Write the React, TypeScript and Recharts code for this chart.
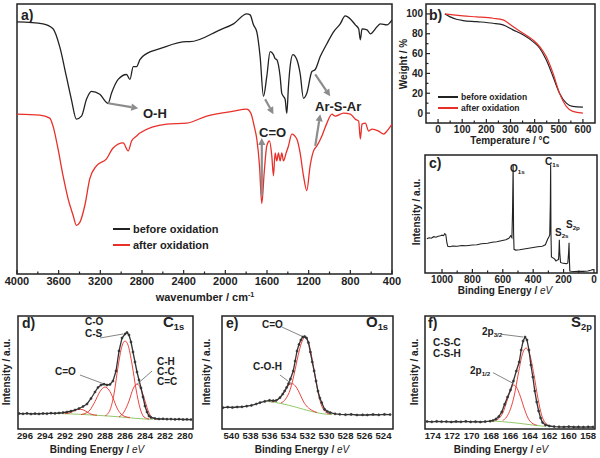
import React from 'react';
import { LineChart, Line, XAxis, YAxis, ReferenceLine, ReferenceArea } from 'recharts';

const FONT = '"Liberation Sans", Arial, Helvetica, sans-serif';
const INK = '#222';
const RED = '#e8302a';
const GREEN = '#86c35a';
const GREY = '#8c8c8c';

// a) FTIR, [wavenumber, transmittance a.u.]
const ftirBefore: [number, number][] = [
  [4000, 254], [3750, 252], [3654, 247], [3590, 229], [3526, 199], [3478, 176], [3430, 156], [3381, 159],
  [3333, 176], [3285, 184], [3205, 181], [3125, 172], [3093, 182], [3029, 196], [2948, 201], [2916, 196],
  [2884, 209], [2852, 209], [2820, 216], [2756, 222], [2628, 227], [2371, 234], [2340, 234], [2050, 246],
  [1922, 252], [1794, 262], [1762, 261], [1730, 251], [1698, 244], [1666, 219], [1634, 179], [1602, 199],
  [1570, 224], [1538, 221], [1522, 217], [1506, 216], [1474, 199], [1458, 182], [1442, 179], [1426, 176],
  [1410, 162], [1394, 189], [1378, 209], [1352, 221], [1314, 216], [1282, 202], [1250, 177], [1218, 182],
  [1169, 204], [1137, 206], [1089, 219], [1025, 232], [961, 244], [897, 252], [849, 260], [800, 257],
  [752, 251], [720, 247], [704, 236], [688, 247], [640, 246], [608, 242], [544, 249], [512, 252],
  [448, 251], [400, 256],
];
const ftirAfter: [number, number][] = [
  [4000, 161], [3782, 160], [3686, 157], [3654, 149], [3606, 126], [3558, 99], [3510, 76], [3461, 59],
  [3430, 49], [3397, 52], [3349, 69], [3301, 96], [3237, 109], [3141, 116], [3077, 127], [2981, 132],
  [2932, 124], [2900, 134], [2852, 139], [2820, 142], [2564, 151], [2371, 152], [2179, 159], [1922, 164],
  [1794, 166], [1755, 162], [1723, 149], [1698, 136], [1672, 109], [1650, 71], [1627, 102], [1602, 129],
  [1576, 134], [1554, 119], [1538, 99], [1522, 122], [1506, 114], [1490, 122], [1474, 114], [1458, 122],
  [1442, 114], [1416, 122], [1394, 129], [1362, 141], [1314, 136], [1282, 122], [1250, 99], [1218, 84],
  [1186, 109], [1153, 124], [1121, 129], [1073, 139], [1025, 152], [977, 161], [945, 159], [865, 162],
  [800, 161], [752, 156], [720, 154], [704, 136], [688, 151], [656, 152], [624, 144], [592, 146],
  [528, 144], [480, 141], [448, 144], [400, 151],
];
const ftirTicks = [4000, 3800, 3600, 3400, 3200, 3000, 2800, 2600, 2400, 2200, 2000, 1800, 1600, 1400, 1200, 1000, 800, 600, 400];

// b) TGA, [temperature, weight %]
const tgaBefore: [number, number][] = [
  [28, 100], [48, 97.3], [76, 94.6], [103, 93.3], [160, 92.2], [228, 90.6], [269, 88.9], [310, 83.9],
  [352, 78.9], [393, 72.1], [421, 65.4], [448, 53.7], [476, 36.9], [503, 20.1], [531, 10], [558, 6.7], [600, 6],
];
const tgaAfter: [number, number][] = [
  [28, 100], [62, 99], [103, 98], [160, 97], [228, 95.6], [269, 94], [310, 87.2], [352, 80.5],
  [393, 73.8], [421, 67.1], [448, 57], [476, 40.3], [503, 20.1], [531, 6.7], [558, 1.7], [600, 0],
];
const tgaXTicks = [0, 50, 100, 150, 200, 250, 300, 350, 400, 450, 500, 550, 600];
const tgaYTicks = [0, 10, 20, 30, 40, 50, 60, 70, 80, 90, 100];

// c) XPS survey, [binding energy, intensity a.u.]
const survey: [number, number][] = [
  [1100, 34], [1085, 35], [1070, 34.5], [1055, 36], [1040, 35.5], [1025, 36.5], [1010, 37], [1000, 37.5],
  [990, 37], [982, 39], [975, 38], [968, 30], [962, 26.5], [950, 26], [930, 26.8], [900, 26.5], [870, 27.3],
  [840, 27], [800, 27.8], [770, 28], [740, 29], [700, 29.5], [670, 30.5], [640, 31], [610, 32], [580, 33],
  [560, 34.5], [548, 37], [540, 35], [536, 60], [532, 107], [529, 40], [526, 23.5], [515, 22.7], [490, 23],
  [460, 23.8], [430, 24.5], [400, 25.3], [370, 26], [340, 26.5], [320, 28], [305, 33.5], [296, 36], [291, 38],
  [287, 70], [285, 107], [283, 40], [280, 16], [270, 15], [260, 14], [250, 12], [240, 13], [233, 13.5],
  [230, 22], [228, 33], [225, 20], [220, 10.5], [210, 10], [195, 9.5], [180, 9.2], [172, 10], [167, 20],
  [164, 30], [162, 15], [159, 2], [150, 1.8], [130, 1.5], [100, 1.7], [70, 1.6], [40, 2], [20, 2.8], [10, 3.5], [0, 3],
];
const surveyTicks = [0, 100, 200, 300, 400, 500, 600, 700, 800, 900, 1000];

// d) C1s
const c1sData: [number, number][] = [
  [296.6, 15.5], [296.2, 15.2], [295.8, 15.6], [295.4, 15.0], [295.0, 15.4], [294.6, 15.1], [294.2, 15.5],
  [293.8, 15.3], [293.4, 15.8], [293.0, 15.6], [292.6, 16.0], [292.2, 16.4], [291.8, 17.0], [291.4, 17.8],
  [291.0, 19.0], [290.6, 20.5], [290.2, 22.5], [289.8, 25.0], [289.4, 30.5], [289.0, 37.0], [288.7, 41.5],
  [288.4, 44.0], [288.1, 44.8], [287.8, 44.0], [287.5, 44.5], [287.2, 48.0], [286.9, 58.0], [286.6, 78.0],
  [286.3, 91.0], [286.0, 95.0], [285.8, 96.5], [285.6, 94.0], [285.4, 87.0], [285.2, 77.0], [285.0, 67.0],
  [284.8, 57.0], [284.6, 49.0], [284.4, 41.0], [284.2, 32.0], [284.0, 23.0], [283.8, 17.0], [283.6, 13.0],
  [283.4, 11.5], [283.0, 10.5], [282.6, 10.0], [282.2, 10.2], [281.8, 9.8], [281.4, 9.9], [281.0, 9.6],
  [280.6, 9.8], [280.2, 9.5], [279.8, 9.7], [279.4, 9.4],
];
const c1sBg: [number, number][] = [
  [293.0, 15.6], [292.0, 15.3], [291.0, 14.9], [290.0, 14.4], [289.0, 13.8], [288.0, 13.2], [287.0, 12.5],
  [286.0, 11.6], [285.0, 10.7], [284.0, 10.0], [283.2, 9.7],
];
const c1sCO3: [number, number][] = [
  [292.0, 15.3], [291.5, 16.3], [291.0, 18.5], [290.6, 19.8], [290.2, 19.2], [289.8, 17], [289.3, 14.5], [288.8, 13.8],
];
const c1sCdO: [number, number][] = [
  [290.4, 14.5], [290.0, 15.5], [289.5, 19], [289.0, 27.5], [288.5, 37.5], [288.0, 42], [287.6, 39], [287.2, 31],
  [286.8, 21], [286.4, 15], [286.0, 12.5], [285.5, 11.5],
];
const c1sCO: [number, number][] = [
  [288.0, 13], [287.5, 19], [287.1, 35], [286.7, 62], [286.3, 83], [286.0, 88], [285.7, 84], [285.3, 65],
  [284.9, 40], [284.5, 21], [284.1, 12], [283.6, 10],
];
const c1sCC: [number, number][] = [
  [286.6, 12], [286.1, 17], [285.6, 28], [285.2, 40], [284.8, 45], [284.4, 40], [284.0, 28], [283.6, 16],
  [283.2, 11], [282.7, 9.8],
];
const c1sTicks = [280, 282, 284, 286, 288, 290, 292, 294, 296];

// e) O1s
const o1sData: [number, number][] = [
  [540.9, 21.3], [540.4, 21.8], [539.9, 21.5], [539.4, 22.0], [538.9, 22.2], [538.4, 22.8], [537.9, 23.6],
  [537.4, 25.0], [537.0, 26.3], [536.5, 27.6], [536.0, 28.7], [535.6, 28.3], [535.3, 28.5], [534.9, 31.3],
  [534.6, 35.0], [534.4, 38.0], [534.2, 41.5], [534.0, 45.3], [533.8, 50.0], [533.5, 58.0], [533.3, 68.0],
  [533.1, 78.0], [532.9, 84.5], [532.7, 89.0], [532.5, 92.0], [532.3, 92.5], [532.1, 91.0], [531.9, 86.3],
  [531.7, 77.0], [531.5, 67.0], [531.3, 58.0], [531.1, 48.0], [530.9, 38.0], [530.7, 31.0], [530.5, 26.3],
  [530.2, 19.7], [529.9, 17.5], [529.6, 16.3], [529.1, 15.2], [528.6, 14.7], [528.0, 14.3], [527.4, 14.6],
  [526.8, 14.0], [526.2, 14.2], [525.7, 14.0], [525.1, 14.5], [524.5, 14.1], [523.9, 14.6], [523.3, 14.4],
];
const o1sBg: [number, number][] = [
  [536.2, 27.5], [535.5, 26.8], [534.8, 25.5], [534.0, 23.8], [533.2, 21.8], [532.4, 19.6], [531.6, 17.6],
  [530.8, 15.9], [530.0, 14.8], [529.4, 14.5],
];
const o1sCOH: [number, number][] = [
  [535.8, 27], [535.3, 28.5], [534.8, 32], [534.3, 39], [533.9, 44.5], [533.6, 45.3], [533.2, 42], [532.8, 35],
  [532.4, 27], [532.0, 22], [531.5, 18.5], [531.0, 16.5],
];
const o1sCdO: [number, number][] = [
  [534.8, 26], [534.3, 30], [533.8, 40], [533.4, 55], [533.0, 73], [532.6, 87], [532.3, 91.5], [532.0, 89],
  [531.7, 79], [531.4, 64], [531.1, 47], [530.8, 33], [530.5, 23], [530.1, 17], [529.6, 15],
];
const o1sTicks = [524, 526, 528, 530, 532, 534, 536, 538, 540];

// f) S2p
const s2pData: [number, number][] = [
  [174.6, 7.5], [174.1, 7.2], [173.6, 7.6], [173.1, 7.3], [172.6, 7.4], [172.1, 7.0], [171.6, 7.5], [171.1, 7.2],
  [170.6, 7.6], [170.1, 7.1], [169.6, 7.3], [169.1, 7.0], [168.6, 7.4], [168.1, 7.8], [167.8, 8.5], [167.5, 10],
  [167.2, 12.5], [166.9, 17], [166.6, 24.7], [166.3, 32], [166.0, 39], [165.7, 48], [165.4, 58], [165.1, 67],
  [164.9, 79], [164.7, 88], [164.5, 92], [164.3, 89], [164.1, 79], [163.9, 64], [163.7, 52], [163.5, 38],
  [163.3, 27], [163.1, 18], [162.9, 11], [162.7, 6.5], [162.4, 4], [162.0, 3], [161.5, 2.4], [161.0, 2.2],
  [160.5, 2.0], [160.0, 2.3], [159.5, 2.0], [159.0, 2.1], [158.5, 1.9], [158.0, 2.2], [157.5, 2.0],
];
const s2pBg: [number, number][] = [
  [168.2, 8], [167.5, 7.8], [166.8, 7.3], [166.0, 6.6], [165.2, 5.8], [164.4, 4.8], [163.6, 3.8], [162.8, 3], [162.3, 2.6],
];
const s2pHalf: [number, number][] = [
  [167.6, 8.5], [167.2, 10.5], [166.8, 16], [166.4, 27], [166.0, 38.5], [165.7, 44], [165.4, 42], [165.0, 33],
  [164.6, 21], [164.2, 11], [163.8, 6], [163.3, 4],
];
const s2pThreeHalf: [number, number][] = [
  [166.8, 8.5], [166.4, 12], [166.0, 20], [165.6, 34], [165.2, 55], [164.8, 74], [164.4, 81], [164.0, 74],
  [163.6, 55], [163.2, 32], [162.8, 14], [162.4, 6], [162.0, 3.5],
];
const s2pTicks = [158, 160, 162, 164, 166, 168, 170, 172, 174];

const pts = (p: [number, number][]) => p.map(([x, y]) => ({ x, y }));

// plot boxes in page pixels
const BOX = {
  a: { l: 17, t: 4, r: 392, b: 274 },
  b: { l: 426, t: 4, r: 595, b: 123 },
  c: { l: 425, t: 155, r: 597, b: 273 },
  d: { l: 18, t: 316, r: 193, b: 429 },
  e: { l: 222, t: 316, r: 393, b: 429 },
  f: { l: 425, t: 316, r: 595, b: 429 },
};
const PAD_T = 4, PAD_R = 14, PAD_B = 22;

// the x axis takes the bottom pad, the y axis (if drawn) the left pad
function place(bx: { l: number; t: number; r: number; b: number }, padL = 16, yAxisShown = false) {
  return {
    style: { position: 'absolute', left: bx.l - padL, top: bx.t - PAD_T } as React.CSSProperties,
    width: bx.r - bx.l + padL + PAD_R,
    height: bx.b - bx.t + PAD_T + PAD_B,
    margin: { top: PAD_T, right: PAD_R, bottom: 0, left: yAxisShown ? 0 : padL },
  };
}

// ticks point inward; major ones get a label
const bottomTick = (every: number, fs: number, line = true) => (props: any) => {
  const { x, y, payload } = props;
  const v = payload.value;
  const major = Math.abs(v / every - Math.round(v / every)) < 1e-6;
  return (
    <g>
      {line && <line x1={x} x2={x} y1={y} y2={y - (major ? 4 : 2.5)} stroke={INK} strokeWidth={1.2} />}
      {major && (
        <text x={x} y={y + 3} textAnchor="middle" dominantBaseline="hanging" fontSize={fs} fontWeight={700} fontFamily={FONT} fill={INK}>
          {v}
        </text>
      )}
    </g>
  );
};
const leftTick = (every: number, fs: number) => (props: any) => {
  const { x, y, payload } = props;
  const v = payload.value;
  const major = Math.abs(v / every - Math.round(v / every)) < 1e-6;
  return (
    <g>
      <line x1={x} x2={x + (major ? 4 : 2.5)} y1={y} y2={y} stroke={INK} strokeWidth={1.2} />
      {major && (
        <text x={x - 3} y={y} textAnchor="end" dominantBaseline="central" fontSize={fs} fontWeight={700} fontFamily={FONT} fill={INK}>
          {v}
        </text>
      )}
    </g>
  );
};

const arrow = (p: any) => {
  const { x1, y1, x2, y2 } = p;
  const a = Math.atan2(y2 - y1, x2 - x1);
  const L = 7, W = 3.6;
  const bx = x2 - L * Math.cos(a), by = y2 - L * Math.sin(a);
  const q = [
    [x2, y2],
    [bx + W * Math.sin(a), by - W * Math.cos(a)],
    [bx - W * Math.sin(a), by + W * Math.cos(a)],
  ];
  return (
    <g>
      <line x1={x1} y1={y1} x2={bx} y2={by} stroke={GREY} strokeWidth={2.2} />
      <polygon points={q.map((c) => c.join(',')).join(' ')} fill={GREY} />
    </g>
  );
};
const leader = (p: any) => <line x1={p.x1} y1={p.y1} x2={p.x2} y2={p.y2} stroke="#777" strokeWidth={0.9} />;

const T = ({ x, y, s = 10, a = 'l', rot = false, w = 700, children }: any) => (
  <div
    style={{
      position: 'absolute', left: x, top: y, fontFamily: FONT, fontSize: s, fontWeight: w, color: INK,
      lineHeight: 1, whiteSpace: 'nowrap',
      transform: `translate(${a === 'm' ? '-50%' : a === 'r' ? '-100%' : '0'}, -50%)${rot ? ' rotate(-90deg)' : ''}`,
    }}
  >
    {children}
  </div>
);
const Sub = ({ children }: any) => <span style={{ fontSize: '0.62em', verticalAlign: '-0.3em' }}>{children}</span>;
const Sup = ({ children }: any) => <span style={{ fontSize: '0.65em', verticalAlign: '0.5em' }}>{children}</span>;
const Seg = ({ x, y, w, c }: any) => <div style={{ position: 'absolute', left: x, top: y - 0.75, width: w, height: 1.5, background: c }} />;

function PanelA() {
  const f = place(BOX.a);
  return (
    <div style={f.style}>
      <LineChart width={f.width} height={f.height} margin={f.margin}>
        <XAxis type="number" dataKey="x" domain={[400, 4000]} reversed allowDataOverflow ticks={ftirTicks} interval={0}
          height={PAD_B} tickSize={0} tickMargin={0} axisLine={false} tickLine={false} tick={bottomTick(400, 11)} />
        <YAxis type="number" domain={[0, 272]} hide allowDataOverflow />
        <Line data={pts(ftirBefore)} dataKey="y" type="monotone" stroke={INK} strokeWidth={1.3} dot={false} isAnimationActive={false} />
        <Line data={pts(ftirAfter)} dataKey="y" type="monotone" stroke={RED} strokeWidth={1.3} dot={false} isAnimationActive={false} />
        <ReferenceLine segment={[{ x: 3125, y: 172 }, { x: 2836, y: 167 }]} shape={arrow} ifOverflow="visible" />
        <ReferenceLine segment={[{ x: 1618, y: 176 }, { x: 1538, y: 161 }]} shape={arrow} ifOverflow="visible" />
        <ReferenceLine segment={[{ x: 1650, y: 79 }, { x: 1650, y: 137 }]} shape={arrow} ifOverflow="visible" />
        <ReferenceLine segment={[{ x: 1137, y: 201 }, { x: 993, y: 179 }]} shape={arrow} ifOverflow="visible" />
        <ReferenceLine segment={[{ x: 1137, y: 129 }, { x: 1089, y: 161 }]} shape={arrow} ifOverflow="visible" />
        <ReferenceArea x1={4000} x2={400} y1={0} y2={272} fill="none" stroke={INK} strokeWidth={1.5} ifOverflow="visible" />
      </LineChart>
    </div>
  );
}

function PanelB() {
  const f = place(BOX.b, 26, true);
  return (
    <div style={f.style}>
      <LineChart width={f.width} height={f.height} margin={f.margin}>
        <XAxis type="number" dataKey="x" domain={[-50, 650]} allowDataOverflow ticks={tgaXTicks} interval={0}
          height={PAD_B} tickSize={0} tickMargin={0} axisLine={false} tickLine={false} tick={bottomTick(100, 10)} />
        <YAxis type="number" domain={[-10, 110]} allowDataOverflow ticks={tgaYTicks} interval={0}
          width={26} tickSize={0} tickMargin={0} axisLine={false} tickLine={false} tick={leftTick(20, 10)} />
        <Line data={pts(tgaBefore)} dataKey="y" type="monotone" stroke={INK} strokeWidth={1.2} dot={false} isAnimationActive={false} />
        <Line data={pts(tgaAfter)} dataKey="y" type="monotone" stroke={RED} strokeWidth={1.2} dot={false} isAnimationActive={false} />
        <ReferenceArea x1={-50} x2={650} y1={-10} y2={110} fill="none" stroke={INK} strokeWidth={1.5} ifOverflow="visible" />
      </LineChart>
    </div>
  );
}

function PanelC() {
  const f = place(BOX.c);
  return (
    <div style={f.style}>
      <LineChart width={f.width} height={f.height} margin={f.margin}>
        <XAxis type="number" dataKey="x" domain={[-20, 1112]} reversed allowDataOverflow ticks={surveyTicks} interval={0}
          height={PAD_B} tickSize={0} tickMargin={0} axisLine={false} tickLine={false} tick={bottomTick(200, 10)} />
        <YAxis type="number" domain={[0, 117]} hide allowDataOverflow />
        <Line data={pts(survey)} dataKey="y" type="linear" stroke={INK} strokeWidth={1.1} dot={false} isAnimationActive={false} />
        <ReferenceArea x1={-20} x2={1112} y1={0} y2={117} fill="none" stroke={INK} strokeWidth={1.5} ifOverflow="visible" />
      </LineChart>
    </div>
  );
}

function XpsPanel({ bx, domain, ticks, data, bg, fits, leaders }: any) {
  const f = place(bx);
  return (
    <div style={f.style}>
      <LineChart width={f.width} height={f.height} margin={f.margin}>
        <XAxis type="number" dataKey="x" domain={domain} reversed allowDataOverflow ticks={ticks} interval={0}
          height={PAD_B} tickSize={0} tickMargin={0} axisLine={false} tickLine={false} tick={bottomTick(2, 9.5, false)} />
        <YAxis type="number" domain={[0, 113]} hide allowDataOverflow />
        <Line data={pts(bg)} dataKey="y" type="monotone" stroke={GREEN} strokeWidth={0.9} dot={false} isAnimationActive={false} />
        {fits.map((fit: [number, number][], i: number) => (
          <Line key={i} data={pts(fit)} dataKey="y" type="monotone" stroke={RED} strokeWidth={0.9} dot={false} isAnimationActive={false} />
        ))}
        <Line data={pts(data)} dataKey="y" type="linear" stroke="#333" strokeWidth={1.3}
          dot={{ r: 1.1, fill: '#333', stroke: '#333', strokeWidth: 0.5 }} isAnimationActive={false} />
        {leaders.map((s: any, i: number) => (
          <ReferenceLine key={'l' + i} segment={[{ x: s[0], y: s[1] }, { x: s[2], y: s[3] }]} shape={leader} ifOverflow="visible" />
        ))}
        <ReferenceArea x1={domain[0]} x2={domain[1]} y1={0} y2={113} fill="none" stroke={INK} strokeWidth={1.5} ifOverflow="visible" />
      </LineChart>
    </div>
  );
}

export default function App() {
  return (
    <div style={{ position: 'absolute', left: 0, top: 0, width: 600, height: 458, background: '#fff', overflow: 'hidden', fontFamily: FONT }}>
      <PanelA />
      <PanelB />
      <PanelC />
      <XpsPanel bx={BOX.d} domain={[279.2, 296.7]} ticks={c1sTicks} data={c1sData} bg={c1sBg}
        fits={[c1sCO3, c1sCdO, c1sCO, c1sCC]}
        leaders={[[288.5, 91, 286.2, 95], [290.5, 54, 288.0, 44.7], [283.3, 58, 284.8, 44.7]]} />
      <XpsPanel bx={BOX.e} domain={[523, 541]} ticks={o1sTicks} data={o1sData} bg={o1sBg}
        fits={[o1sCOH, o1sCdO]}
        leaders={[[534.7, 102, 532.4, 92], [534.9, 54, 533.7, 45.5]]} />
      <XpsPanel bx={BOX.f} domain={[157.3, 174.8]} ticks={s2pTicks} data={s2pData} bg={s2pBg}
        fits={[s2pHalf, s2pThreeHalf]}
        leaders={[[166.9, 94.7, 164.7, 92], [167.8, 56.3, 165.7, 45.5]]} />

      {/* a) */}
      <T x={21} y={15} s={14}>a)</T>
      <T x={143} y={113} s={13}>O-H</T>
      <T x={259} y={132} s={13}>C=O</T>
      <T x={315} y={106} s={13}>Ar-S-Ar</T>
      <Seg x={113} y={229} w={17} c={INK} />
      <T x={133} y={229} s={11}>before oxidation</T>
      <Seg x={113} y={245} w={17} c={RED} />
      <T x={133} y={245} s={11}>after oxidation</T>
      <T x={205} y={297} s={11} a="m">wavenumber / cm<Sup>-1</Sup></T>

      {/* b) */}
      <T x={429} y={15} s={14}>b)</T>
      <Seg x={438} y={97} w={20} c={INK} />
      <T x={461} y={97} s={8.5}>before oxidation</T>
      <Seg x={438} y={108} w={20} c={RED} />
      <T x={461} y={108} s={8.5}>after oxidation</T>
      <T x={404} y={64} s={10} a="m" rot>Weight / %</T>
      <T x={510} y={141} s={10} a="m">Temperature / °C</T>

      {/* c) */}
      <T x={429} y={163} s={14}>c)</T>
      <T x={510} y={170} s={10}>O<Sub>1s</Sub></T>
      <T x={545} y={163} s={10}>C<Sub>1s</Sub></T>
      <T x={555} y={234} s={10}>S<Sub>2s</Sub></T>
      <T x={566} y={226} s={10}>S<Sub>2p</Sub></T>
      <T x={417} y={212} s={10} a="m" rot>Intensity / a.u.</T>
      <T x={505} y={291} s={10} a="m">Binding Energy / <span style={{ fontWeight: 400, fontStyle: 'italic' }}>eV</span></T>

      {/* d) */}
      <T x={22} y={323} s={14}>d)</T>
      <T x={163} y={323} s={15}>C<Sub>1s</Sub></T>
      <T x={85} y={322} s={10}>C-O</T>
      <T x={85} y={334} s={10}>C-S</T>
      <T x={55} y={372} s={10}>C=O</T>
      <T x={157} y={362} s={10}>C-H</T>
      <T x={157} y={372} s={10}>C-C</T>
      <T x={157} y={382} s={10}>C=C</T>
      <T x={7} y={372} s={10} a="m" rot>Intensity / a.u.</T>
      <T x={97} y={450} s={10} a="m">Binding Energy / <span style={{ fontWeight: 400, fontStyle: 'italic' }}>eV</span></T>

      {/* e) */}
      <T x={226} y={323} s={14}>e)</T>
      <T x={366} y={323} s={15}>O<Sub>1s</Sub></T>
      <T x={262} y={325} s={10}>C=O</T>
      <T x={253} y={367} s={10}>C-O-H</T>
      <T x={207} y={372} s={10} a="m" rot>Intensity / a.u.</T>
      <T x={302} y={450} s={10} a="m">Binding Energy / <span style={{ fontWeight: 400, fontStyle: 'italic' }}>eV</span></T>

      {/* f) */}
      <T x={428} y={323} s={14}>f)</T>
      <T x={571} y={323} s={15}>S<Sub>2p</Sub></T>
      <T x={482} y={333} s={10}>2p<Sub>3/2</Sub></T>
      <T x={470} y={372} s={10}>2p<Sub>1/2</Sub></T>
      <T x={433} y={343} s={10}>C-S-C</T>
      <T x={433} y={354} s={10}>C-S-H</T>
      <T x={415} y={372} s={10} a="m" rot>Intensity / a.u.</T>
      <T x={501} y={450} s={10} a="m">Binding Energy / <span style={{ fontWeight: 400, fontStyle: 'italic' }}>eV</span></T>
    </div>
  );
}
